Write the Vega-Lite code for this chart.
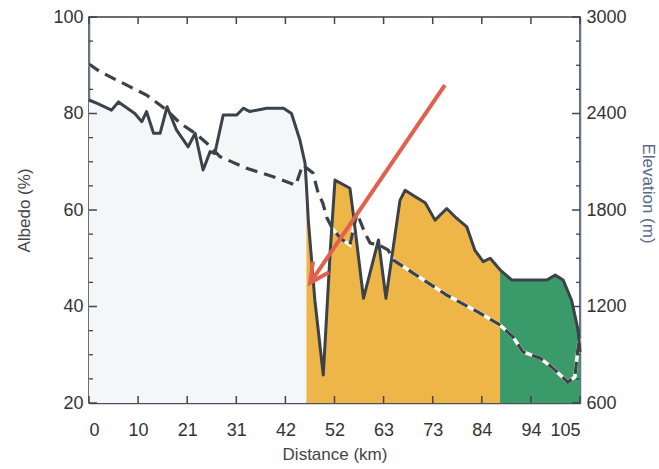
{
  "$schema": "https://vega.github.io/schema/vega-lite/v6.json",
  "width": 491,
  "height": 386,
  "autosize": "none",
  "padding": {"left": 89, "top": 17, "right": 79, "bottom": 66},
  "background": "white",
  "config": {
    "view": {"stroke": "#3a3f46", "strokeWidth": 1.5},
    "axis": {
      "labelFont": "Liberation Sans",
      "labelFontSize": 18,
      "labelColor": "#333333",
      "titleFont": "Liberation Sans",
      "titleFontSize": 17,
      "titleFontWeight": "normal",
      "titleColor": "#444444",
      "grid": false,
      "domainColor": "#4a5260",
      "domainWidth": 1.5,
      "zindex": 1
    }
  },
  "datasets": {
    "albedo": [
      {"d": 0, "a": 82.8, "seg": "gray"},
      {"d": 2, "a": 82.0, "seg": "gray"},
      {"d": 4.8, "a": 80.7, "seg": "gray"},
      {"d": 6.3, "a": 82.4, "seg": "gray"},
      {"d": 9.8, "a": 80.0, "seg": "gray"},
      {"d": 11.3, "a": 78.3, "seg": "gray"},
      {"d": 12.3, "a": 80.4, "seg": "gray"},
      {"d": 13.8, "a": 75.9, "seg": "gray"},
      {"d": 15.2, "a": 75.9, "seg": "gray"},
      {"d": 16.7, "a": 81.4, "seg": "gray"},
      {"d": 18.7, "a": 76.6, "seg": "gray"},
      {"d": 21.2, "a": 73.1, "seg": "gray"},
      {"d": 22.7, "a": 75.9, "seg": "gray"},
      {"d": 24.4, "a": 68.3, "seg": "gray"},
      {"d": 25.9, "a": 72.1, "seg": "gray"},
      {"d": 26.9, "a": 71.7, "seg": "gray"},
      {"d": 28.7, "a": 79.7, "seg": "gray"},
      {"d": 31.6, "a": 79.7, "seg": "gray"},
      {"d": 33.0, "a": 81.1, "seg": "gray"},
      {"d": 34.4, "a": 80.4, "seg": "gray"},
      {"d": 38.0, "a": 81.1, "seg": "gray"},
      {"d": 41.6, "a": 81.1, "seg": "gray"},
      {"d": 43.3, "a": 80.0, "seg": "gray"},
      {"d": 45.1, "a": 74.5, "seg": "gray"},
      {"d": 46.2, "a": 69.7, "seg": "gray"},
      {"d": 46.5, "a": 65.0, "seg": "gray"},
      {"d": 46.5, "a": 65.0, "seg": "orange"},
      {"d": 46.9, "a": 57.9, "seg": "orange"},
      {"d": 48.3, "a": 41.3, "seg": "orange"},
      {"d": 50.1, "a": 25.8, "seg": "orange"},
      {"d": 51.6, "a": 51.7, "seg": "orange"},
      {"d": 52.6, "a": 66.2, "seg": "orange"},
      {"d": 55.8, "a": 64.5, "seg": "orange"},
      {"d": 56.5, "a": 59.3, "seg": "orange"},
      {"d": 58.7, "a": 41.7, "seg": "orange"},
      {"d": 61.9, "a": 53.8, "seg": "orange"},
      {"d": 63.5, "a": 41.7, "seg": "orange"},
      {"d": 66.5, "a": 62.0, "seg": "orange"},
      {"d": 67.6, "a": 64.1, "seg": "orange"},
      {"d": 69.7, "a": 62.8, "seg": "orange"},
      {"d": 71.9, "a": 61.5, "seg": "orange"},
      {"d": 74.0, "a": 57.9, "seg": "orange"},
      {"d": 76.5, "a": 60.3, "seg": "orange"},
      {"d": 78.6, "a": 58.3, "seg": "orange"},
      {"d": 80.8, "a": 56.5, "seg": "orange"},
      {"d": 82.5, "a": 51.7, "seg": "orange"},
      {"d": 84.3, "a": 49.3, "seg": "orange"},
      {"d": 85.8, "a": 50.0, "seg": "orange"},
      {"d": 87.9, "a": 47.6, "seg": "orange"},
      {"d": 87.9, "a": 47.6, "seg": "green"},
      {"d": 90.4, "a": 45.5, "seg": "green"},
      {"d": 94.3, "a": 45.5, "seg": "green"},
      {"d": 97.9, "a": 45.5, "seg": "green"},
      {"d": 99.7, "a": 46.5, "seg": "green"},
      {"d": 101.4, "a": 45.5, "seg": "green"},
      {"d": 103.2, "a": 41.3, "seg": "green"},
      {"d": 104.6, "a": 35.1, "seg": "green"},
      {"d": 105, "a": 30.6, "seg": "green"}
    ],
    "elevation": [
      {"d": 0, "e": 2708},
      {"d": 2.35, "e": 2660},
      {"d": 12.3, "e": 2515},
      {"d": 16.6, "e": 2422},
      {"d": 19.5, "e": 2339},
      {"d": 22.7, "e": 2277},
      {"d": 25.2, "e": 2215},
      {"d": 28.0, "e": 2132},
      {"d": 33.7, "e": 2059},
      {"d": 39.4, "e": 2007},
      {"d": 44.2, "e": 1955},
      {"d": 45.7, "e": 2080},
      {"d": 47.9, "e": 2030},
      {"d": 49.0, "e": 1906},
      {"d": 50.0, "e": 1843},
      {"d": 50.9, "e": 1750},
      {"d": 52.0, "e": 1688},
      {"d": 53.7, "e": 1626},
      {"d": 55.8, "e": 1582},
      {"d": 57.3, "e": 1781},
      {"d": 59.0, "e": 1657},
      {"d": 60.1, "e": 1595},
      {"d": 62.5, "e": 1575},
      {"d": 64.0, "e": 1550},
      {"d": 65.1, "e": 1489},
      {"d": 69.3, "e": 1408},
      {"d": 76.5, "e": 1271},
      {"d": 83.6, "e": 1159},
      {"d": 87.9, "e": 1085},
      {"d": 90.7, "e": 1010},
      {"d": 92.8, "e": 917},
      {"d": 96.4, "e": 880},
      {"d": 99.2, "e": 817},
      {"d": 102.4, "e": 730},
      {"d": 103.9, "e": 762},
      {"d": 104.6, "e": 948},
      {"d": 105, "e": 1000}
    ],
    "arrow": [
      {"d": 76.1, "a": 85.9},
      {"d": 47.3, "a": 44.9}
    ],
    "arrowhead": [
      {"d": 47.3, "a": 44.9}
    ],
    "yMajorTicks": [
      {"v": 20}, {"v": 40}, {"v": 60}, {"v": 80}, {"v": 100}
    ],
    "yMinorTicks": [
      {"v": 25}, {"v": 30}, {"v": 35}, {"v": 45}, {"v": 50}, {"v": 55},
      {"v": 65}, {"v": 70}, {"v": 75}, {"v": 85}, {"v": 90}, {"v": 95}
    ],
    "xTicks": [
      {"v": 0}, {"v": 10.5}, {"v": 21}, {"v": 31.5}, {"v": 42}, {"v": 52.5},
      {"v": 63}, {"v": 73.5}, {"v": 84}, {"v": 94.5}, {"v": 105}
    ]
  },
  "resolve": {
    "scale": {"y": "independent"},
    "axis": {"x": "independent", "y": "independent"}
  },
  "layer": [
    {
      "data": {"name": "albedo"},
      "mark": {"type": "area", "opacity": 1},
      "encoding": {
        "x": {
          "field": "d", "type": "quantitative",
          "scale": {"domain": [0, 105], "nice": false, "zero": false},
          "axis": {
            "orient": "bottom",
            "values": [0, 10.5, 21, 31.5, 42, 52.5, 63, 73.5, 84, 94.5, 105],
            "labelExpr": "floor(datum.value)",
            "ticks": false,
            "labelPadding": 18,
            "title": "Distance (km)",
            "titlePadding": 7
          }
        },
        "y": {
          "field": "a", "type": "quantitative",
          "scale": {"domain": [20, 100], "nice": false, "zero": false},
          "axis": {
            "orient": "left",
            "values": [20, 40, 60, 80, 100],
            "ticks": false,
            "labelPadding": 6,
            "title": "Albedo (%)",
            "titlePadding": 19,
            "domainColor": "#66758f"
          }
        },
        "y2": {"datum": 20},
        "color": {
          "field": "seg", "type": "nominal",
          "scale": {"domain": ["gray", "orange", "green"], "range": ["#f5f6f8", "#eeb548", "#3a9a6a"]},
          "legend": null
        }
      }
    },
    {
      "data": {"name": "elevation"},
      "mark": {"type": "line", "color": "#fbfbf2", "strokeWidth": 3.5},
      "encoding": {
        "x": {"field": "d", "type": "quantitative", "scale": {"domain": [0, 105], "nice": false, "zero": false}, "axis": null},
        "y": {"field": "e", "type": "quantitative", "scale": {"domain": [600, 3000], "nice": false, "zero": false}, "axis": null}
      }
    },
    {
      "data": {"name": "elevation"},
      "mark": {"type": "line", "color": "#3b4249", "strokeWidth": 3.2, "strokeDash": [12, 7]},
      "encoding": {
        "x": {"field": "d", "type": "quantitative", "scale": {"domain": [0, 105], "nice": false, "zero": false}, "axis": null},
        "y": {
          "field": "e", "type": "quantitative",
          "scale": {"domain": [600, 3000], "nice": false, "zero": false},
          "axis": {
            "orient": "right",
            "values": [600, 1200, 1800, 2400, 3000],
            "format": "d",
            "ticks": false,
            "labelPadding": 6,
            "title": "Elevation (m)",
            "titlePadding": 12,
            "titleColor": "#56698a",
            "titleY": 176,
            "domainColor": "#66758f"
          }
        }
      }
    },
    {
      "data": {"name": "albedo"},
      "mark": {"type": "line", "color": "#3b4249", "strokeWidth": 3, "strokeJoin": "round"},
      "encoding": {
        "x": {"field": "d", "type": "quantitative", "scale": {"domain": [0, 105], "nice": false, "zero": false}, "axis": null},
        "y": {"field": "a", "type": "quantitative", "scale": {"domain": [20, 100], "nice": false, "zero": false}, "axis": null}
      }
    },
    {
      "data": {"name": "arrow"},
      "mark": {"type": "line", "color": "#e2604e", "strokeWidth": 4},
      "encoding": {
        "x": {"field": "d", "type": "quantitative", "scale": {"domain": [0, 105], "nice": false, "zero": false}, "axis": null},
        "y": {"field": "a", "type": "quantitative", "scale": {"domain": [20, 100], "nice": false, "zero": false}, "axis": null}
      }
    },
    {
      "data": {"name": "arrowhead"},
      "mark": {
        "type": "point",
        "shape": "M -0.5 -1 L 0 0 L 0.5 -1",
        "filled": false,
        "stroke": "#e2604e",
        "strokeWidth": 4,
        "size": 1500,
        "angle": 34,
        "opacity": 1
      },
      "encoding": {
        "x": {"field": "d", "type": "quantitative", "scale": {"domain": [0, 105], "nice": false, "zero": false}, "axis": null},
        "y": {"field": "a", "type": "quantitative", "scale": {"domain": [20, 100], "nice": false, "zero": false}, "axis": null}
      }
    },
    {
      "data": {"name": "yMajorTicks"},
      "mark": {"type": "rule", "color": "#3f4650", "strokeWidth": 1.5},
      "encoding": {
        "x": {"datum": 0, "type": "quantitative", "scale": {"domain": [0, 105], "nice": false, "zero": false}, "axis": null},
        "x2": {"datum": 1.7},
        "y": {"field": "v", "type": "quantitative", "scale": {"domain": [20, 100], "nice": false, "zero": false}, "axis": null}
      }
    },
    {
      "data": {"name": "yMajorTicks"},
      "mark": {"type": "rule", "color": "#3f4650", "strokeWidth": 1.5},
      "encoding": {
        "x": {"datum": 105, "type": "quantitative", "scale": {"domain": [0, 105], "nice": false, "zero": false}, "axis": null},
        "x2": {"datum": 103.3},
        "y": {"field": "v", "type": "quantitative", "scale": {"domain": [20, 100], "nice": false, "zero": false}, "axis": null}
      }
    },
    {
      "data": {"name": "yMinorTicks"},
      "mark": {"type": "rule", "color": "#3f4650", "strokeWidth": 1.3},
      "encoding": {
        "x": {"datum": 0, "type": "quantitative", "scale": {"domain": [0, 105], "nice": false, "zero": false}, "axis": null},
        "x2": {"datum": 0.85},
        "y": {"field": "v", "type": "quantitative", "scale": {"domain": [20, 100], "nice": false, "zero": false}, "axis": null}
      }
    },
    {
      "data": {"name": "yMinorTicks"},
      "mark": {"type": "rule", "color": "#3f4650", "strokeWidth": 1.3},
      "encoding": {
        "x": {"datum": 105, "type": "quantitative", "scale": {"domain": [0, 105], "nice": false, "zero": false}, "axis": null},
        "x2": {"datum": 104.15},
        "y": {"field": "v", "type": "quantitative", "scale": {"domain": [20, 100], "nice": false, "zero": false}, "axis": null}
      }
    },
    {
      "data": {"name": "xTicks"},
      "mark": {"type": "rule", "color": "#3f4650", "strokeWidth": 1.5},
      "encoding": {
        "x": {"field": "v", "type": "quantitative", "scale": {"domain": [0, 105], "nice": false, "zero": false}, "axis": null},
        "y": {"datum": 20, "type": "quantitative", "scale": {"domain": [20, 100], "nice": false, "zero": false}, "axis": null},
        "y2": {"datum": 21.45}
      }
    },
    {
      "data": {"name": "xTicks"},
      "mark": {"type": "rule", "color": "#3f4650", "strokeWidth": 1.5},
      "encoding": {
        "x": {"field": "v", "type": "quantitative", "scale": {"domain": [0, 105], "nice": false, "zero": false}, "axis": null},
        "y": {"datum": 100, "type": "quantitative", "scale": {"domain": [20, 100], "nice": false, "zero": false}, "axis": null},
        "y2": {"datum": 98.55}
      }
    }
  ]
}
